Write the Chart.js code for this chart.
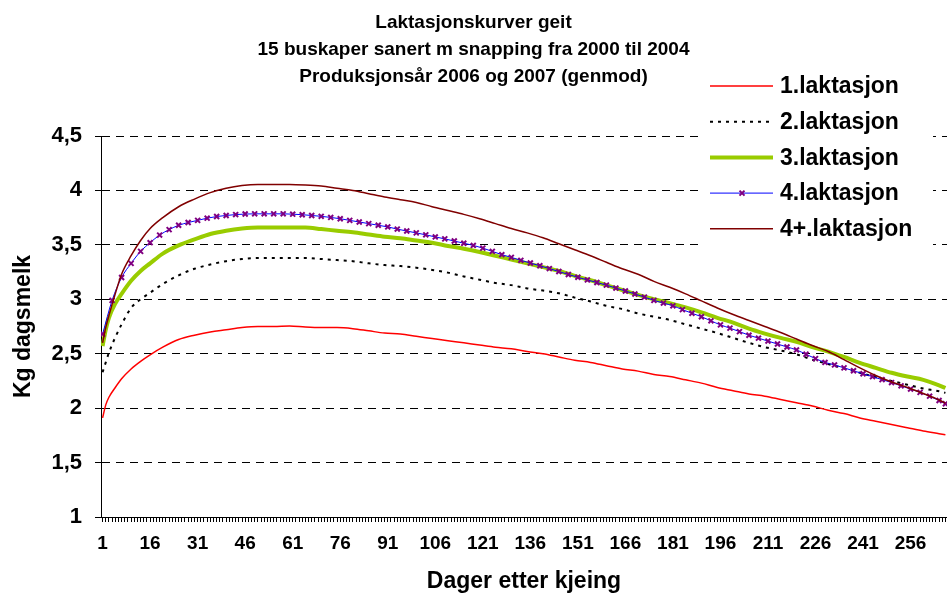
<!DOCTYPE html>
<html>
<head>
<meta charset="utf-8">
<script src="https://cdn.jsdelivr.net/npm/chart.js@4.4.1/dist/chart.umd.min.js"></script>
<style>
  html, body { margin: 0; padding: 0; background: #fff; }
</style>
</head>
<body>
<canvas id="lactChart" width="947" height="594"></canvas>
<script>
const titleLines = [
  'Laktasjonskurver geit',
  '15 buskaper sanert m snapping fra 2000 til 2004',
  'Produksjonsår 2006 og 2007 (genmod)'
];
const seriesNames = ['1.laktasjon', '2.laktasjon', '3.laktasjon', '4.laktasjon', '4+.laktasjon'];

const days = [1, 2, 3, 5, 7, 10, 13, 16, 20, 25, 30, 35, 40, 45, 50, 55, 60, 65, 70, 75, 80, 85, 90, 95, 100,
  105, 110, 115, 120, 125, 130, 135, 140, 145, 150, 155, 160, 165, 170, 175, 180, 185, 190, 195, 200,
  205, 210, 215, 220, 225, 230, 235, 240, 245, 250, 255, 260, 265, 267];
// 4.laktasjon has markers, so it is read more densely
const days4 = [1, 4, 7, 10, 13, 16, 19, 22, 25, 28, 31, 34, 37, 40, 43, 46, 49, 52, 55, 58, 61, 64, 67, 70, 73,
  76, 79, 82, 85, 88, 91, 94, 97, 100, 103, 106, 109, 112, 115, 118, 121, 124, 127, 130, 133, 136, 139, 142,
  145, 148, 151, 154, 157, 160, 163, 166, 169, 172, 175, 178, 181, 184, 187, 190, 193, 196, 199, 202, 205,
  208, 211, 214, 217, 220, 223, 226, 229, 232, 235, 238, 241, 244, 247, 250, 253, 256, 259, 262, 265, 267];

const lakt1 = [1.91, 2.03, 2.10, 2.19, 2.27, 2.36, 2.43, 2.49, 2.56, 2.63, 2.67, 2.70, 2.72, 2.74, 2.75, 2.75, 2.755,
  2.745, 2.74, 2.74, 2.73, 2.71, 2.69, 2.68, 2.66, 2.64, 2.62, 2.60, 2.58, 2.56, 2.545, 2.52, 2.50, 2.47, 2.44,
  2.42, 2.39, 2.36, 2.34, 2.31, 2.29, 2.26, 2.23, 2.19, 2.16, 2.13, 2.11, 2.08, 2.05, 2.02, 1.98, 1.95, 1.91,
  1.88, 1.85, 1.82, 1.79, 1.765, 1.755];
const lakt2 = [2.33, 2.42, 2.51, 2.65, 2.77, 2.92, 3.00, 3.06, 3.14, 3.22, 3.28, 3.32, 3.35, 3.37, 3.38, 3.38, 3.38,
  3.38, 3.37, 3.36, 3.35, 3.33, 3.315, 3.305, 3.29, 3.27, 3.245, 3.21, 3.18, 3.15, 3.13, 3.10, 3.08, 3.055, 3.015,
  2.98, 2.94, 2.91, 2.87, 2.84, 2.81, 2.77, 2.73, 2.69, 2.645, 2.60, 2.56, 2.53, 2.495, 2.445, 2.405, 2.365, 2.325,
  2.285, 2.25, 2.215, 2.18, 2.155, 2.14];
const lakt3 = [2.57, 2.72, 2.83, 2.96, 3.05, 3.17, 3.26, 3.33, 3.42, 3.495, 3.55, 3.60, 3.63, 3.65, 3.66, 3.66, 3.66,
  3.66, 3.645, 3.63, 3.615, 3.595, 3.575, 3.56, 3.54, 3.52, 3.49, 3.465, 3.435, 3.40, 3.365, 3.33, 3.295, 3.26, 3.215,
  3.175, 3.13, 3.085, 3.04, 3.00, 2.965, 2.925, 2.88, 2.83, 2.785, 2.73, 2.685, 2.645, 2.61, 2.56, 2.52, 2.47, 2.415,
  2.37, 2.325, 2.29, 2.26, 2.21, 2.185];
const lakt4 = [2.68, 2.99, 3.20, 3.33, 3.44, 3.52, 3.59, 3.64, 3.68, 3.705, 3.725, 3.745, 3.76, 3.77, 3.778, 3.783,
  3.785, 3.785, 3.785, 3.785, 3.782, 3.777, 3.77, 3.762, 3.752, 3.74, 3.725, 3.71, 3.695, 3.68, 3.665, 3.645, 3.627,
  3.61, 3.592, 3.573, 3.555, 3.535, 3.515, 3.495, 3.47, 3.44, 3.41, 3.385, 3.358, 3.333, 3.308, 3.282, 3.255,
  3.228, 3.202, 3.178, 3.154, 3.13, 3.103, 3.076, 3.049, 3.02, 2.99, 2.965, 2.94, 2.905, 2.872, 2.84, 2.802,
  2.765, 2.735, 2.703, 2.67, 2.643, 2.616, 2.589, 2.562, 2.535, 2.495, 2.455, 2.42, 2.397, 2.37, 2.343, 2.316,
  2.289, 2.262, 2.235, 2.205, 2.175, 2.145, 2.11, 2.07, 2.04];
const lakt5 = [2.60, 2.74, 2.85, 3.05, 3.23, 3.40, 3.54, 3.65, 3.75, 3.85, 3.92, 3.98, 4.02, 4.045, 4.055, 4.055, 4.055,
  4.05, 4.04, 4.02, 4.00, 3.97, 3.94, 3.915, 3.89, 3.85, 3.815, 3.78, 3.74, 3.695, 3.65, 3.61, 3.565, 3.51, 3.455,
  3.40, 3.34, 3.28, 3.23, 3.165, 3.11, 3.05, 2.985, 2.92, 2.86, 2.805, 2.75, 2.695, 2.635, 2.575, 2.52, 2.445, 2.37,
  2.30, 2.24, 2.19, 2.135, 2.075, 2.045];

const xTickLabels = ['1', '16', '31', '46', '61', '76', '91', '106', '121', '136', '151', '166', '181', '196', '211', '226', '241', '256'];
const yTickLabels = ['1', '1,5', '2', '2,5', '3', '3,5', '4', '4,5'];
const lastDay = 267;

const FONT = '"Liberation Sans", Arial, sans-serif';

function pts(xs, values) {
  return xs.map((d, i) => ({ x: d, y: values[i] }));
}

// legend floats over the top right of the plot, like in the Excel original
const floatingLegend = {
  id: 'floatingLegend',
  beforeDatasetsDraw(chart) {
    const ctx = chart.ctx;
    ctx.save();
    ctx.fillStyle = '#fff';
    ctx.fillRect(703, 64, 230, 186);
    ctx.restore();
  },
  afterDraw(chart) {
    const ctx = chart.ctx;
    ctx.save();
    ctx.font = 'bold 23px ' + FONT;
    ctx.textBaseline = 'middle';
    chart.data.datasets.forEach((ds, i) => {
      const y = 86 + i * 35.7;
      ctx.strokeStyle = ds.borderColor;
      ctx.lineWidth = ds.borderWidth;
      ctx.setLineDash(ds.borderDash || []);
      ctx.beginPath();
      ctx.moveTo(710, y);
      ctx.lineTo(773, y);
      ctx.stroke();
      ctx.setLineDash([]);
      if (ds.pointRadius > 0) {
        const r = 2.5;
        ctx.strokeStyle = ds.pointBorderColor;
        ctx.lineWidth = 2;
        ctx.beginPath();
        ctx.moveTo(742 - r, y - r); ctx.lineTo(742 + r, y + r);
        ctx.moveTo(742 - r, y + r); ctx.lineTo(742 + r, y - r);
        ctx.stroke();
      }
      ctx.fillStyle = '#000';
      ctx.fillText(seriesNames[i], 780, y + 1);
    });
    ctx.restore();
  }
};

new Chart(document.getElementById('lactChart').getContext('2d'), {
  type: 'line',
  data: {
    datasets: [{
      label: seriesNames[0],
      data: pts(days, lakt1),
      borderColor: '#ff0000',
      borderWidth: 1.5,
      pointRadius: 0,
      order: 5
    }, {
      label: seriesNames[1],
      data: pts(days, lakt2),
      borderColor: '#000000',
      borderWidth: 2,
      borderDash: [3, 5],
      pointRadius: 0,
      order: 4
    }, {
      label: seriesNames[2],
      data: pts(days, lakt3),
      borderColor: '#99cc00',
      borderWidth: 4,
      pointRadius: 0,
      order: 3
    }, {
      label: seriesNames[3],
      data: pts(days4, lakt4),
      borderColor: '#0000ff',
      borderWidth: 1,
      pointStyle: 'crossRot',
      pointRadius: 3.5,
      pointBorderWidth: 2,
      pointBorderColor: '#800080',
      pointBackgroundColor: '#800080',
      order: 2
    }, {
      label: seriesNames[4],
      data: pts(days, lakt5),
      borderColor: '#800000',
      borderWidth: 1.5,
      pointRadius: 0,
      order: 1
    }]
  },
  options: {
    responsive: false,
    animation: false,
    devicePixelRatio: 1,
    cubicInterpolationMode: 'monotone',
    layout: { padding: 0, autoPadding: false },
    plugins: {
      legend: { display: false },
      tooltip: { enabled: false },
      title: {
        display: true,
        text: titleLines,
        color: '#000',
        font: { family: FONT, size: 19, weight: 'bold', lineHeight: '27px' },
        padding: { top: 9, bottom: 46 }
      }
    },
    scales: {
      x: {
        type: 'linear',
        min: 0.5,
        max: lastDay + 0.5,
        afterBuildTicks: scale => {
          const t = [];
          for (let d = 1; d <= lastDay; d++) t.push({ value: d });
          scale.ticks = t;
        },
        afterFit: scale => {
          scale.height = 77;
          scale.paddingRight = 0;
        },
        ticks: {
          autoSkip: false,
          maxRotation: 0,
          minRotation: 0,
          padding: 10,
          color: '#000',
          font: { family: FONT, size: 19, weight: 'bold' },
          callback: v => xTickLabels.includes(String(v)) ? String(v) : ''
        },
        grid: {
          drawOnChartArea: false,
          drawTicks: true,
          tickLength: 5,
          color: '#000',
          lineWidth: 1
        },
        border: { display: true, color: '#000', width: 1 },
        title: {
          display: true,
          text: 'Dager etter kjeing',
          color: '#000',
          font: { family: FONT, size: 23, weight: 'bold', lineHeight: 1.1 },
          padding: { top: 0, bottom: 0 }
        }
      },
      y: {
        min: 1,
        max: 4.5,
        afterFit: scale => { scale.width = 101; },
        ticks: {
          stepSize: 0.5,
          padding: 13,
          color: '#000',
          font: { family: FONT, size: 22, weight: 'bold' },
          callback: (v, i) => yTickLabels[i]
        },
        grid: {
          color: '#000',
          lineWidth: 1,
          tickLength: 6,
          tickColor: '#000'
        },
        border: { display: true, color: '#000', width: 1, dash: [8, 6] },
        title: {
          display: true,
          text: 'Kg dagsmelk',
          color: '#000',
          font: { family: FONT, size: 23, weight: 'bold' },
          padding: { top: 10, bottom: 0 }
        }
      }
    }
  },
  plugins: [floatingLegend]
});
</script>
</body>
</html>
